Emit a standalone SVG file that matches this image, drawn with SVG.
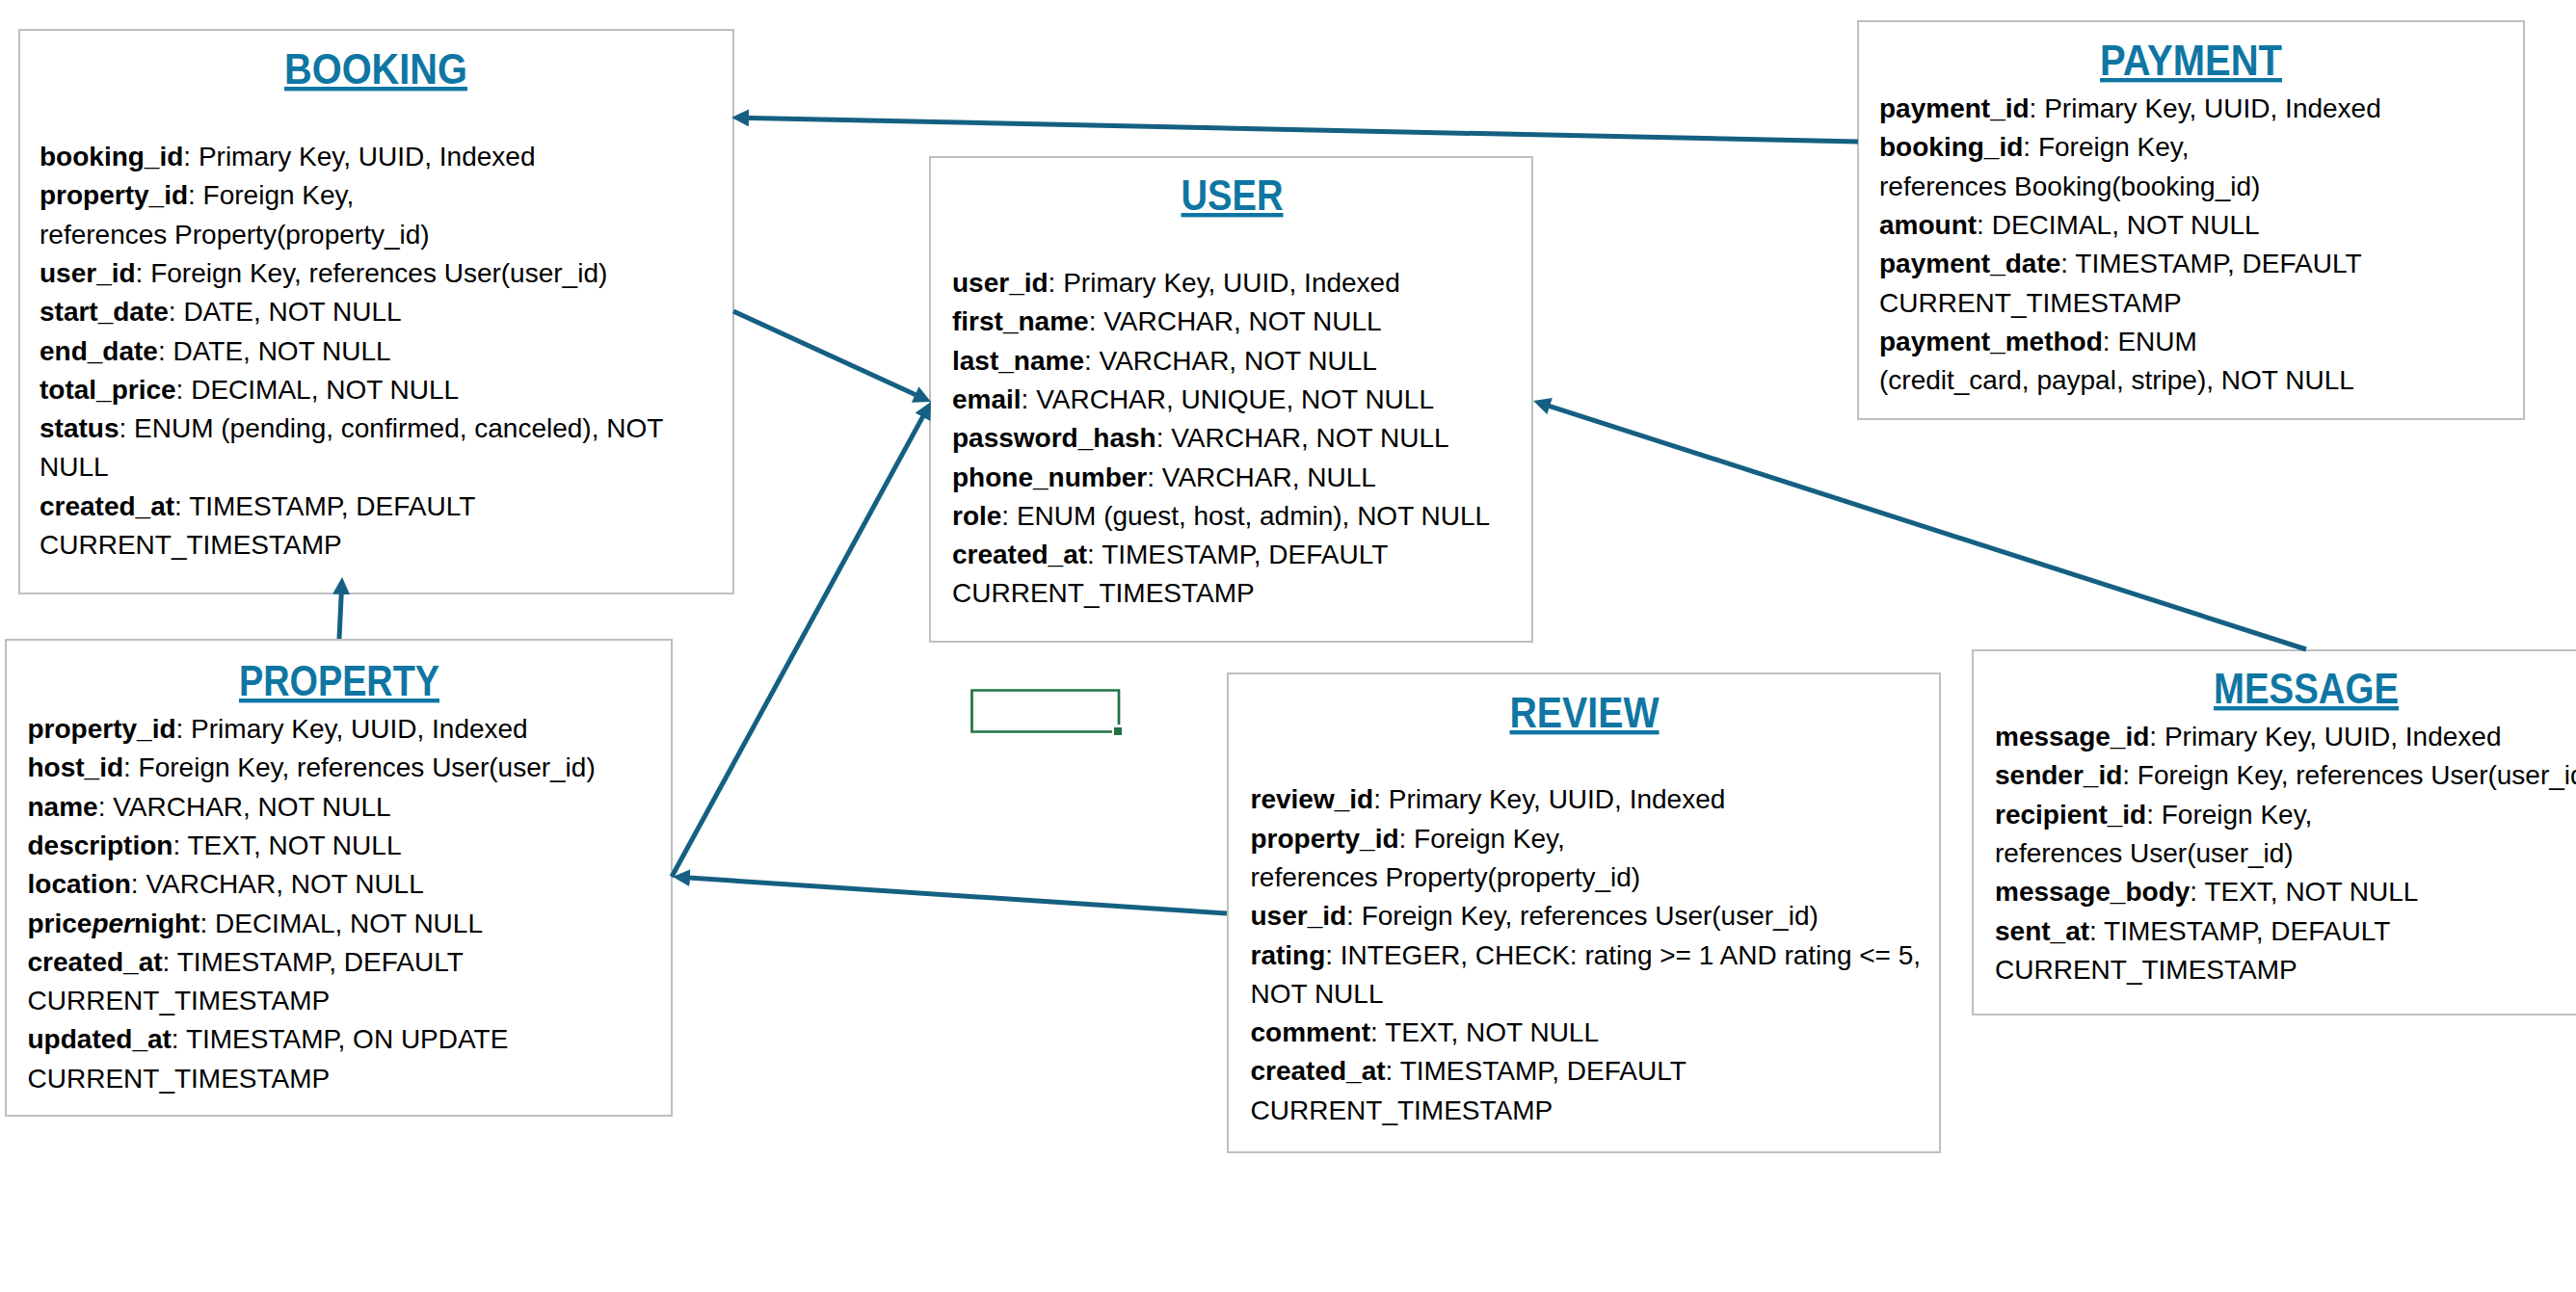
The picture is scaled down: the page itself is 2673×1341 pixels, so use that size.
<svg xmlns="http://www.w3.org/2000/svg" width="2673" height="1341" viewBox="0 0 2673 1341">
<style>
.box{fill:#ffffff;stroke:#BFBFBF;stroke-width:2}
.title{font-family:"Liberation Sans",Arial,sans-serif;font-weight:bold;font-size:44px;fill:#0F76A3;text-anchor:middle;text-decoration:underline}
.body{font-family:"Liberation Sans",Arial,sans-serif;font-size:28px;fill:#000000}
.k{font-weight:bold}
.conn{stroke:#156082;stroke-width:5;fill:none;marker-end:url(#arrow)}
</style>
<defs>
<marker id="arrow" markerUnits="userSpaceOnUse" markerWidth="20" markerHeight="20" refX="9" refY="9" orient="auto">
<path d="M0,0 L18,9 L0,18 Z" fill="#156082"/>
</marker>
</defs>
<rect width="2673" height="1341" fill="#ffffff"/>

<g id="booking">
<rect class="box" x="20" y="31" width="741" height="585"/>
<text class="title" x="390" y="87" textLength="190" lengthAdjust="spacingAndGlyphs">BOOKING</text>
<text class="body">
<tspan x="41" y="172"><tspan class="k">booking_id</tspan>: Primary Key, UUID, Indexed</tspan>
<tspan x="41" y="212.3"><tspan class="k">property_id</tspan>: Foreign Key,</tspan>
<tspan x="41" y="252.6">references Property(property_id)</tspan>
<tspan x="41" y="292.9"><tspan class="k">user_id</tspan>: Foreign Key, references User(user_id)</tspan>
<tspan x="41" y="333.2"><tspan class="k">start_date</tspan>: DATE, NOT NULL</tspan>
<tspan x="41" y="373.5"><tspan class="k">end_date</tspan>: DATE, NOT NULL</tspan>
<tspan x="41" y="413.8"><tspan class="k">total_price</tspan>: DECIMAL, NOT NULL</tspan>
<tspan x="41" y="454.1"><tspan class="k">status</tspan>: ENUM (pending, confirmed, canceled), NOT</tspan>
<tspan x="41" y="494.4">NULL</tspan>
<tspan x="41" y="534.7"><tspan class="k">created_at</tspan>: TIMESTAMP, DEFAULT</tspan>
<tspan x="41" y="575">CURRENT_TIMESTAMP</tspan>
</text>
</g>

<g id="user">
<rect class="box" x="965" y="163" width="625" height="503"/>
<text class="title" x="1278.5" y="218" textLength="106" lengthAdjust="spacingAndGlyphs">USER</text>
<text class="body">
<tspan x="988" y="303"><tspan class="k">user_id</tspan>: Primary Key, UUID, Indexed</tspan>
<tspan x="988" y="343.3"><tspan class="k">first_name</tspan>: VARCHAR, NOT NULL</tspan>
<tspan x="988" y="383.6"><tspan class="k">last_name</tspan>: VARCHAR, NOT NULL</tspan>
<tspan x="988" y="423.9"><tspan class="k">email</tspan>: VARCHAR, UNIQUE, NOT NULL</tspan>
<tspan x="988" y="464.2"><tspan class="k">password_hash</tspan>: VARCHAR, NOT NULL</tspan>
<tspan x="988" y="504.5"><tspan class="k">phone_number</tspan>: VARCHAR, NULL</tspan>
<tspan x="988" y="544.8"><tspan class="k">role</tspan>: ENUM (guest, host, admin), NOT NULL</tspan>
<tspan x="988" y="585.1"><tspan class="k">created_at</tspan>: TIMESTAMP, DEFAULT</tspan>
<tspan x="988" y="625.4">CURRENT_TIMESTAMP</tspan>
</text>
</g>

<g id="payment">
<rect class="box" x="1928" y="22" width="691" height="413"/>
<text class="title" x="2273.5" y="78" textLength="189" lengthAdjust="spacingAndGlyphs">PAYMENT</text>
<text class="body">
<tspan x="1950" y="122"><tspan class="k">payment_id</tspan>: Primary Key, UUID, Indexed</tspan>
<tspan x="1950" y="162.3"><tspan class="k">booking_id</tspan>: Foreign Key,</tspan>
<tspan x="1950" y="202.6">references Booking(booking_id)</tspan>
<tspan x="1950" y="242.9"><tspan class="k">amount</tspan>: DECIMAL, NOT NULL</tspan>
<tspan x="1950" y="283.2"><tspan class="k">payment_date</tspan>: TIMESTAMP, DEFAULT</tspan>
<tspan x="1950" y="323.5">CURRENT_TIMESTAMP</tspan>
<tspan x="1950" y="363.8"><tspan class="k">payment_method</tspan>: ENUM</tspan>
<tspan x="1950" y="404.1">(credit_card, paypal, stripe), NOT NULL</tspan>
</text>
</g>

<g id="property">
<rect class="box" x="6" y="664" width="691" height="494"/>
<text class="title" x="352" y="722" textLength="208" lengthAdjust="spacingAndGlyphs">PROPERTY</text>
<text class="body">
<tspan x="28.5" y="766"><tspan class="k">property_id</tspan>: Primary Key, UUID, Indexed</tspan>
<tspan x="28.5" y="806.3"><tspan class="k">host_id</tspan>: Foreign Key, references User(user_id)</tspan>
<tspan x="28.5" y="846.6"><tspan class="k">name</tspan>: VARCHAR, NOT NULL</tspan>
<tspan x="28.5" y="886.9"><tspan class="k">description</tspan>: TEXT, NOT NULL</tspan>
<tspan x="28.5" y="927.2"><tspan class="k">location</tspan>: VARCHAR, NOT NULL</tspan>
<tspan x="28.5" y="967.5"><tspan class="k">price</tspan><tspan class="k" font-style="italic">per</tspan><tspan class="k">night</tspan>: DECIMAL, NOT NULL</tspan>
<tspan x="28.5" y="1007.8"><tspan class="k">created_at</tspan>: TIMESTAMP, DEFAULT</tspan>
<tspan x="28.5" y="1048.1">CURRENT_TIMESTAMP</tspan>
<tspan x="28.5" y="1088.4"><tspan class="k">updated_at</tspan>: TIMESTAMP, ON UPDATE</tspan>
<tspan x="28.5" y="1128.7">CURRENT_TIMESTAMP</tspan>
</text>
</g>

<g id="review">
<rect class="box" x="1274" y="699" width="739" height="497"/>
<text class="title" x="1644" y="755" textLength="155" lengthAdjust="spacingAndGlyphs">REVIEW</text>
<text class="body">
<tspan x="1297.5" y="839.3"><tspan class="k">review_id</tspan>: Primary Key, UUID, Indexed</tspan>
<tspan x="1297.5" y="879.6"><tspan class="k">property_id</tspan>: Foreign Key,</tspan>
<tspan x="1297.5" y="919.9">references Property(property_id)</tspan>
<tspan x="1297.5" y="960.2"><tspan class="k">user_id</tspan>: Foreign Key, references User(user_id)</tspan>
<tspan x="1297.5" y="1000.5"><tspan class="k">rating</tspan>: INTEGER, CHECK: rating &gt;= 1 AND rating &lt;= 5,</tspan>
<tspan x="1297.5" y="1040.8">NOT NULL</tspan>
<tspan x="1297.5" y="1081.1"><tspan class="k">comment</tspan>: TEXT, NOT NULL</tspan>
<tspan x="1297.5" y="1121.4"><tspan class="k">created_at</tspan>: TIMESTAMP, DEFAULT</tspan>
<tspan x="1297.5" y="1161.7">CURRENT_TIMESTAMP</tspan>
</text>
</g>

<g id="message">
<rect class="box" x="2047" y="675" width="700" height="378"/>
<text class="title" x="2393" y="730" textLength="192" lengthAdjust="spacingAndGlyphs">MESSAGE</text>
<text class="body">
<tspan x="2070" y="774"><tspan class="k">message_id</tspan>: Primary Key, UUID, Indexed</tspan>
<tspan x="2070" y="814.3"><tspan class="k">sender_id</tspan>: Foreign Key, references User(user_id)</tspan>
<tspan x="2070" y="854.6"><tspan class="k">recipient_id</tspan>: Foreign Key,</tspan>
<tspan x="2070" y="894.9">references User(user_id)</tspan>
<tspan x="2070" y="935.2"><tspan class="k">message_body</tspan>: TEXT, NOT NULL</tspan>
<tspan x="2070" y="975.5"><tspan class="k">sent_at</tspan>: TIMESTAMP, DEFAULT</tspan>
<tspan x="2070" y="1015.8">CURRENT_TIMESTAMP</tspan>
</text>
</g>

<g id="selected-cell">
<path d="M1161,752 V716.5 H1008.5 V759.5 H1154" fill="none" stroke="#217346" stroke-width="2.7"/>
<rect x="1156" y="755" width="8" height="8" fill="#217346"/>
</g>

<g id="connectors">
<line class="conn" x1="1928" y1="147" x2="768" y2="122.2"/>
<line class="conn" x1="761" y1="323" x2="957.8" y2="413.3"/>
<line class="conn" x1="697" y1="910" x2="961.7" y2="424.9"/>
<line class="conn" x1="352" y1="663" x2="354.6" y2="608"/>
<line class="conn" x1="1273" y1="948" x2="707" y2="910.6"/>
<line class="conn" x1="2393" y1="674" x2="1599.6" y2="418.8"/>
</g>
</svg>
